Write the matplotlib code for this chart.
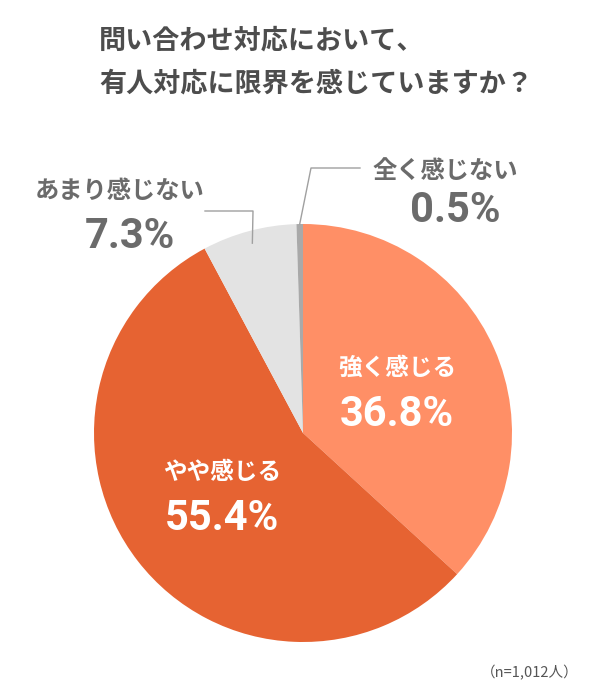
import matplotlib
matplotlib.use("Agg")
import matplotlib.pyplot as plt
import numpy as np

plt.rcParams["font.family"] = ["Noto Sans CJK JP", "DejaVu Sans"]

# ==================== データ ====================
TITLE_LINES = ["問い合わせ対応において、", "有人対応に限界を感じていますか？"]
CATEGORIES = ["強く感じる", "やや感じる", "あまり感じない", "全く感じない"]
SHARES = [36.8, 55.4, 7.3, 0.5]
COLORS = ["#FF8F66", "#E66332", "#E3E3E3", "#A9A9A9"]
NOTE = "（n=1,012人）"

# ==================== レイアウト（ピクセル座標） ====================
W, H = 604, 699
CENTER = (303, 433)
RADIUS = 209
GRAY_TEXT = "#6B6B6B"
NUM_FONT = ["Roboto", "DejaVu Sans"]
NUM_SIZE = 30

fig = plt.figure(figsize=(W / 100, H / 100), dpi=100)
ax = fig.add_axes([0, 0, 1, 1])

# y軸反転なので startangle=-90 / counterclock=True で画面上は12時から時計回り
wedges, _ = ax.pie(SHARES, colors=COLORS, startangle=-90, counterclock=True,
                   center=CENTER, radius=RADIUS, wedgeprops=dict(linewidth=0))

# pie() が範囲を上書きするので後から設定
ax.set_xlim(0, W)
ax.set_ylim(H, 0)
ax.set_aspect("equal")
ax.axis("off")


def point_on(wedge, frac):
    ang = np.deg2rad((wedge.theta1 + wedge.theta2) / 2)
    return CENTER[0] + frac * RADIUS * np.cos(ang), CENTER[1] + frac * RADIUS * np.sin(ang)


# 内側ラベル（強く / やや）
for i in range(2):
    x, y = point_on(wedges[i], 0.49)
    ax.text(x, y - 24, CATEGORIES[i], ha="center", va="center", fontsize=17,
            fontweight="bold", color="white")
    ax.text(x, y + 23, f"{SHARES[i]:.1f}%", ha="center", va="center", fontsize=NUM_SIZE,
            fontweight="bold", color="white", family=NUM_FONT)

# 外側ラベル + 引き出し線
outside = [
    # (index, 線の始点半径, 折れ点, 終点, ラベル中心x, カテゴリy, 数値y)
    (2, 0.94, (253, 211), (205, 211), 120, 191, 236),
    (3, 1.0, (311, 168), (360, 168), 445, 171, 210),
]
for idx, frac, elbow, end, lx, ly, ny in outside:
    sx, sy = point_on(wedges[idx], frac)
    ax.plot([sx, elbow[0], end[0]], [sy, elbow[1], end[1]], color="#A0A0A0", linewidth=1)
    ax.text(lx, ly, CATEGORIES[idx], ha="center", va="center", fontsize=17.5,
            fontweight="bold", color=GRAY_TEXT)
    ax.text(lx + 10, ny, f"{SHARES[idx]:.1f}%", ha="center", va="center", fontsize=NUM_SIZE,
            fontweight="bold", color=GRAY_TEXT, family=NUM_FONT)

# タイトル
for k, line in enumerate(TITLE_LINES):
    ax.text(99, 41 + 43 * k, line, ha="left", va="center", fontsize=19.5,
            fontweight="bold", color="#4D4D4D")

ax.text(579, 673, NOTE, ha="right", va="center", fontsize=10.5, color="#555555")

fig.savefig("out.png", dpi=100, facecolor="white")
